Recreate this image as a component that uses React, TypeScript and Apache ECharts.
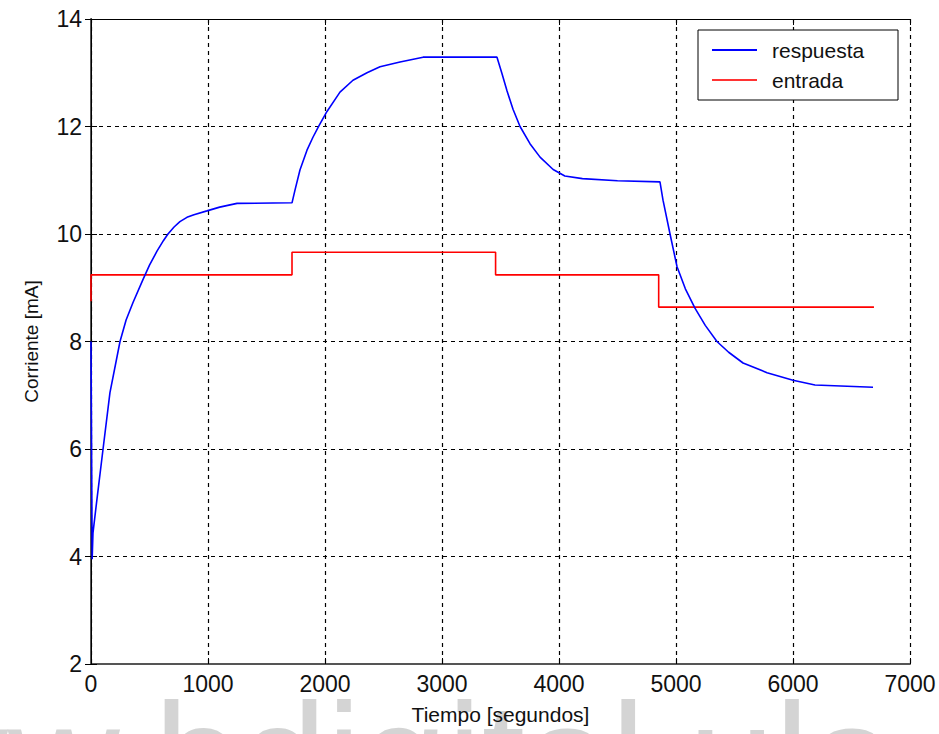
import React, { useEffect, useRef } from "react";
import * as echarts from "echarts";

const xTicks = [0, 1000, 2000, 3000, 4000, 5000, 6000, 7000];
const yTicks = [2, 4, 6, 8, 10, 12, 14];

const respuestaT = [
  0, 10, 17, 50, 103, 162, 248, 300, 360, 444, 500, 564, 620, 658, 710, 760, 820, 880, 991, 1100, 1248, 1718,
  1744, 1786, 1846, 1897, 1950, 2017, 2128, 2239, 2359, 2470, 2641, 2838, 3470,
  3513, 3556, 3607, 3667, 3752, 3838, 3950, 4050, 4200, 4500, 4863,
  4889, 4949, 5009, 5080, 5162, 5250, 5350, 5450, 5573, 5778, 6000, 6188, 6684,
];
const respuestaV = [
  8.0, 3.95, 4.44, 5.05, 6.0, 7.05, 8.0, 8.4, 8.73, 9.15, 9.42, 9.68, 9.88, 10.0, 10.13, 10.23, 10.31, 10.36, 10.43, 10.5, 10.57, 10.58,
  10.82, 11.19, 11.56, 11.8, 12.02, 12.28, 12.64, 12.86, 13.0, 13.11, 13.2, 13.29, 13.29,
  12.98, 12.66, 12.32, 12.0, 11.68, 11.43, 11.2, 11.08, 11.03, 10.99, 10.97,
  10.63, 10.0, 9.39, 8.98, 8.62, 8.3, 8.0, 7.8, 7.6, 7.42, 7.28, 7.19, 7.15,
];

const entradaT = [0, 0, 1718, 1718, 3458, 3458, 4852, 4852, 6692];
const entradaV = [8.75, 9.24, 9.24, 9.66, 9.66, 9.24, 9.24, 8.64, 8.64];

const seriesNames = ["respuesta", "entrada"];
const xTitle = "Tiempo [segundos]";
const yTitle = "Corriente [mA]";
const watermark = "www.bdigital.ula.ve";

export default function App() {
  const ref = useRef<HTMLDivElement>(null);
  useEffect(() => {
    if (!ref.current) return;
    const chart = echarts.init(ref.current, null, { renderer: "svg" });
    const font = "'Liberation Sans', Arial, sans-serif";
    const gridLine = { show: true, lineStyle: { color: "#000", type: [4, 4] as any, width: 1.2 } };
    chart.setOption({
      animation: false,
      backgroundColor: "#fff",
      textStyle: { fontFamily: font },
      graphic: [
        {
          type: "text",
          left: -216,
          top: 681,
          z: -10,
          zlevel: 0,
          silent: true,
          style: {
            text: watermark,
            fontSize: 155,
            fontFamily: font,
            fill: "#d4d4d4",
          },
        },
      ],
      grid: { left: 91, right: 29, top: 19, bottom: 70, containLabel: false },
      legend: {
        orient: "vertical",
        left: 698,
        top: 30,
        padding: [8, 21, 8, 14],
        itemGap: 6,
        itemWidth: 45,
        itemHeight: 2,
        icon: "rect",
        backgroundColor: "#fff",
        borderColor: "#000",
        borderWidth: 1,
        data: seriesNames,
        textStyle: {
          fontSize: 21,
          color: "#111",
          fontFamily: font,
          lineHeight: 24,
          width: 105,
          padding: [0, 0, 0, 10],
        },
      },
      xAxis: [
        {
          type: "value",
          min: 0,
          max: 7000,
          interval: 1000,
          name: xTitle,
          nameLocation: "middle",
          nameGap: 40,
          nameTextStyle: { fontSize: 21, color: "#111", fontFamily: font },
          axisLine: { show: true, lineStyle: { color: "#555", width: 2 } },
          axisTick: { show: true, inside: true, length: 6, lineStyle: { color: "#000" } },
          axisLabel: {
            fontSize: 23,
            color: "#111",
            margin: 8,
            formatter: (v: number) => (xTicks.includes(v) ? String(v) : ""),
          },
          splitLine: gridLine,
        },
        {
          type: "value",
          position: "top",
          min: 0,
          max: 7000,
          interval: 1000,
          axisLine: { show: true, lineStyle: { color: "#000", width: 1 } },
          axisTick: { show: true, inside: true, length: 6, lineStyle: { color: "#000" } },
          axisLabel: { show: false },
          splitLine: { show: false },
        },
      ],
      yAxis: [
        {
          type: "value",
          min: 2,
          max: 14,
          interval: 2,
          name: yTitle,
          nameLocation: "middle",
          nameGap: 50,
          nameTextStyle: { fontSize: 19, color: "#111", fontFamily: font },
          axisLine: { show: true, lineStyle: { color: "#555", width: 2 } },
          axisTick: { show: true, inside: true, length: 6, lineStyle: { color: "#000" } },
          axisLabel: {
            fontSize: 23,
            color: "#111",
            margin: 9,
            formatter: (v: number) => (yTicks.includes(v) ? String(v) : ""),
          },
          splitLine: gridLine,
        },
        {
          type: "value",
          position: "right",
          min: 2,
          max: 14,
          interval: 2,
          axisLine: { show: true, lineStyle: { color: "#000", width: 1 } },
          axisTick: { show: true, inside: true, length: 6, lineStyle: { color: "#000" } },
          axisLabel: { show: false },
          splitLine: { show: false },
        },
      ],
      series: [
        {
          name: seriesNames[0],
          type: "line",
          showSymbol: false,
          symbol: "none",
          data: respuestaT.map((t, i) => [t, respuestaV[i]]),
          lineStyle: { color: "#0000ff", width: 1.6 },
          itemStyle: { color: "#0000ff" },
          z: 3,
        },
        {
          name: seriesNames[1],
          type: "line",
          showSymbol: false,
          symbol: "none",
          data: entradaT.map((t, i) => [t, entradaV[i]]),
          lineStyle: { color: "#ff0000", width: 1.6 },
          itemStyle: { color: "#ff3333" },
          z: 2,
        },
      ],
    });
    return () => chart.dispose();
  }, []);
  return (
    <div
      ref={ref}
      style={{ position: "fixed", left: 0, top: 0, width: 939, height: 734 }}
    />
  );
}
